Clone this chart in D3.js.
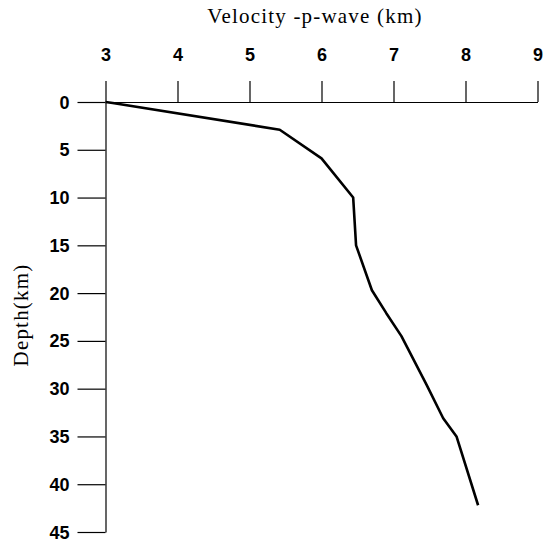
<!DOCTYPE html>
<html>
<head>
<meta charset="utf-8">
<script src="https://cdn.jsdelivr.net/npm/d3@7"></script>
<style>
  html, body { margin: 0; padding: 0; background: #fff; }
  svg { display: block; }
  .tick text { font-family: "Liberation Sans", Arial, sans-serif; font-weight: bold; font-size: 18px; fill: #000; }
  .tick line, .domain { stroke: #000; stroke-width: 1.2px; }
  .axis-title { font-family: "Liberation Serif", "Times New Roman", serif; font-size: 21px; letter-spacing: 1.2px; fill: #000; }
</style>
</head>
<body>
<svg id="chart" width="548" height="547"></svg>
<script>
// P-wave velocity profile (km/s) versus depth (km)
const velocity = [3.0, 3.1, 5.42, 6.0, 6.44, 6.46, 6.48, 6.7, 6.9, 7.11, 7.46, 7.69, 7.875, 8.175];
const depth    = [0.0, 0.1, 2.9, 5.9, 10.0, 12.5, 15.0, 19.7, 22.1, 24.5, 29.6, 33.1, 35.0, 42.2];
const velocityTicks = [3, 4, 5, 6, 7, 8, 9];
const depthTicks = [0, 5, 10, 15, 20, 25, 30, 35, 40, 45];

const svg = d3.select("#chart");

const x = d3.scaleLinear().domain([3, 9]).range([105.5, 537.5]);
const y = d3.scaleLinear().domain([0, 45]).range([102, 532]);

// Velocity axis along the top
svg.append("g")
  .attr("transform", `translate(0,${y(0)})`)
  .call(d3.axisTop(x).tickValues(velocityTicks).tickSize(21).tickSizeOuter(0).tickPadding(26).tickFormat(d3.format("d")));

// Depth axis on the left
svg.append("g")
  .attr("transform", `translate(${x(3)},0)`)
  .call(d3.axisLeft(y).tickValues(depthTicks).tickSize(28).tickSizeOuter(0).tickPadding(8).tickFormat(d3.format("d")));

svg.selectAll(".tick text").attr("dy", null).attr("dominant-baseline", "central");

// Axis titles
svg.append("text")
  .attr("class", "axis-title")
  .attr("x", 315)
  .attr("y", 23)
  .attr("text-anchor", "middle")
  .text("Velocity -p-wave (km)");

svg.append("text")
  .attr("class", "axis-title")
  .attr("transform", "translate(28,315) rotate(-90)")
  .attr("text-anchor", "middle")
  .text("Depth(km)");

// Velocity profile line
const line = d3.line()
  .x((d, i) => x(velocity[i]))
  .y(d => y(d));

svg.append("path")
  .datum(depth)
  .attr("fill", "none")
  .attr("stroke", "#000")
  .attr("stroke-width", 2.6)
  .attr("stroke-linejoin", "round")
  .attr("d", line);
</script>
</body>
</html>
